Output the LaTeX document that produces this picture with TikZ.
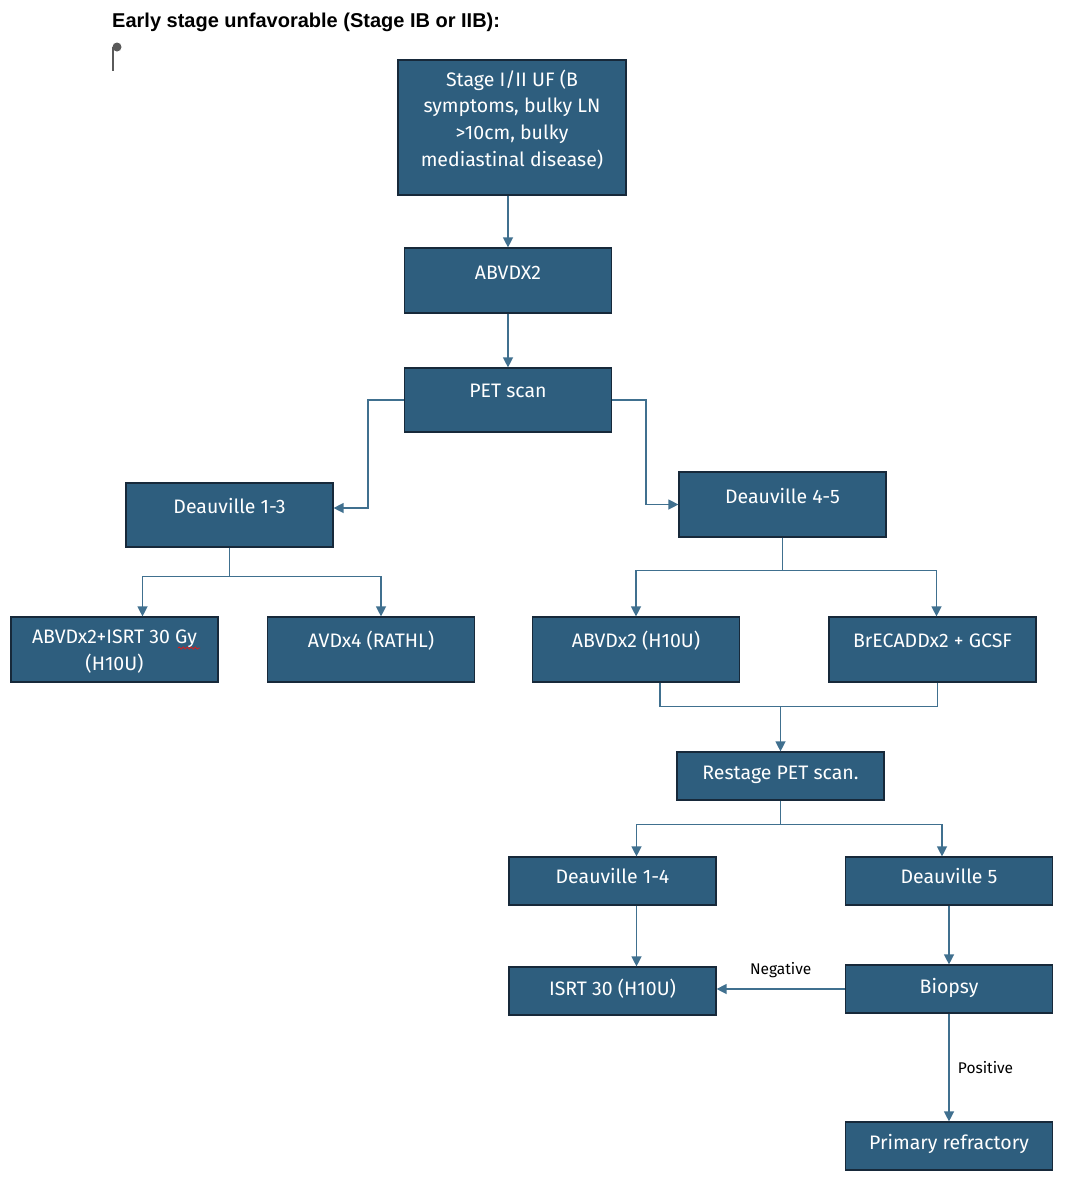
\documentclass[tikz,border=0pt]{standalone}
\usepackage{fontspec}
\setmainfont{Fira Sans}
\newfontfamily\titlefont{Liberation Sans}
\usetikzlibrary{arrows.meta,positioning,decorations.pathmorphing}
\definecolor{boxblue}{HTML}{2E5E7E}
\definecolor{boxedge}{HTML}{17293A}
\definecolor{linkblue}{HTML}{40708F}
\definecolor{pingray}{HTML}{5A5A5A}
\definecolor{spellred}{HTML}{D02020}

\begin{document}
\begin{tikzpicture}[x=1pt,y=-1pt,
  box/.style={draw=boxedge,line width=1.2pt,fill=boxblue,text=white,font=\fontsize{19.5}{26.6}\selectfont,inner xsep=4pt,inner ysep=0pt,minimum width=207pt,align=center},
  tallbox/.style={box,text height=31pt,text depth=34pt},
  flatbox/.style={box,text height=27pt,text depth=21pt},
  link/.style={draw=linkblue,line width=1.3pt},
  arr/.style={link,-{Triangle[length=10pt,width=10pt]}},
  note/.style={font=\fontsize{15.5}{18}\selectfont}]
\useasboundingbox (0,0) rectangle (1079,1200);

% title and anchor pin
\node[anchor=base west,inner sep=0pt,font=\titlefont\bfseries\fontsize{20}{24}\selectfont] (title) at (112,27) {Early stage unfavorable (Stage IB or IIB):};
\fill[pingray] (117,47) circle (4.5pt);
\draw[pingray,line width=1.5pt] (113,47) -- (113,71);

% boxes (multi-line text: height counted from last baseline)
\node[box,minimum width=228pt,text height=106pt,text depth=29pt] (stage) at (512,127.5) {Stage I/II UF (B\\symptoms, bulky LN\\>10cm, bulky\\mediastinal disease)};
\node[tallbox] (abvd) at (508,280.5) {ABVDX2};
\node[tallbox,text height=29pt,text depth=35pt] (pet) at (508,400) {PET scan};
\node[tallbox,text height=30pt,text depth=34pt] (dv13) at (229.5,515) {Deauville 1-3};
\node[tallbox] (dv45) at (782.5,504.5) {Deauville 4-5};
\node[tallbox,text height=53pt,text depth=12pt] (abvdrt) at (114.5,649.5) {ABVDx2+ISRT 30 Gy\\(H10U)};
\node[tallbox,text height=30pt,text depth=35pt] (avd) at (371,649.5) {AVDx4 (RATHL)};
\node[tallbox,text height=30pt,text depth=35pt] (abvdh) at (636,649.5) {ABVDx2 (H10U)};
\node[tallbox,text height=30pt,text depth=35pt] (brec) at (932.5,649.5) {BrECADDx2 + GCSF};
\node[flatbox] (restage) at (780.5,776) {Restage PET scan.};
\node[flatbox,text height=26pt,text depth=22pt] (dv14) at (612.5,881) {Deauville 1-4};
\node[flatbox,text height=26pt,text depth=22pt] (dv5) at (949,881) {Deauville 5};
\node[flatbox,text height=28pt,text depth=20pt] (isrt) at (612.5,991) {ISRT 30 (H10U)};
\node[flatbox,text height=28pt,text depth=20pt] (biopsy) at (949,989) {Biopsy};
\node[flatbox,text height=27pt,text depth=21pt] (primary) at (949,1146) {Primary refractory};

% spell-check mark under "Gy"
\draw[spellred,line width=0.9pt,decorate,decoration={snake,amplitude=1pt,segment length=4pt}] (178,648) -- (200,648);

% connectors
\draw[arr] (abvd.north |- stage.south) -- (abvd);
\draw[arr] (abvd) -- (pet);
\draw[arr] (pet.west) -- ++(-36,0) |- ([yshift=7pt]dv13.east);
\draw[arr] (pet.east) -- ++(34,0) |- (dv45);

\draw[link] (dv13.south) -- ++(0,29) coordinate (fork13);
\draw[arr] (fork13) -| ([xshift=28pt]abvdrt.north);
\draw[arr] (fork13) -| ([xshift=10pt]avd.north);

\draw[link] (dv45.south) -- ++(0,33) coordinate (fork45);
\draw[arr] (fork45) -| (abvdh.north);
\draw[arr] (fork45) -| ([xshift=4pt]brec.north);

\draw[link] ([xshift=24pt]abvdh.south) -- ++(0,24) coordinate (join) -| ([xshift=5pt]brec.south);
\draw[arr] (join -| restage.north) -- (restage);

\draw[link] (restage.south) -- ++(0,24) coordinate (fork2);
\draw[arr] (fork2) -| ([xshift=24pt]dv14.north);
\draw[arr] (fork2) -| ([xshift=-7pt]dv5.north);
\draw[arr] ([xshift=24pt]dv14.south) -- ([xshift=24pt]isrt.north);
\draw[arr] (dv5) -- (biopsy);
\draw[arr] (biopsy.west) -- (biopsy.west -| isrt.east) node[note,midway,above=7pt] {Negative};
\draw[arr] (biopsy) -- (primary) node[note,midway,right=5pt] {Positive};
\end{tikzpicture}
\end{document}
